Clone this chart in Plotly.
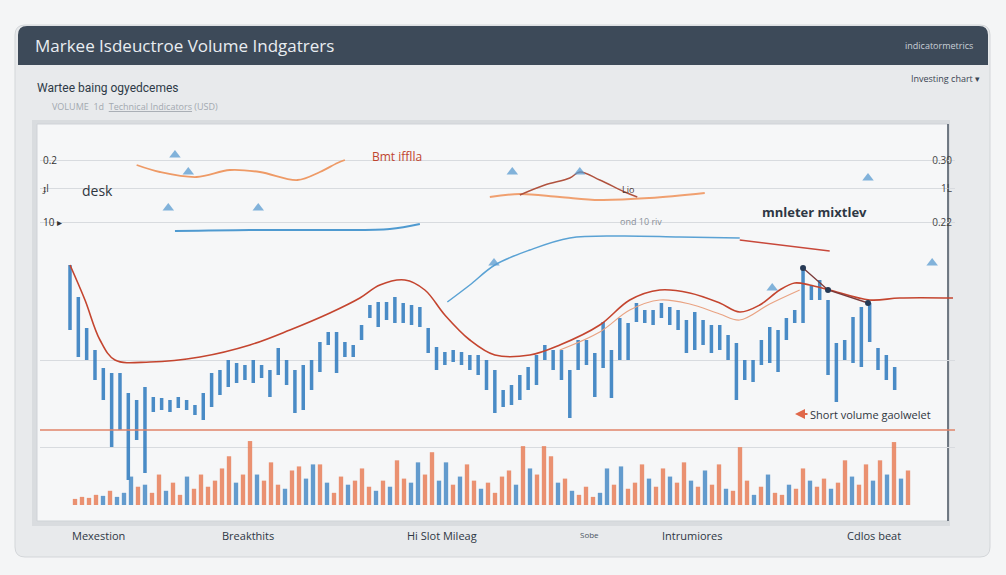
import plotly.graph_objects as go

W, H = 1006, 575
def X(px): return px / W
def Y(py): return 1 - py / H

# ---------------- data ----------------
candle_day = list(range(100))
candle_high = [235,203,172,150,132,127,127,107,100,113,
               103,102,100,103,100,95,107,127,130,140,
               137,135,140,135,130,152,140,130,135,140,
               158,168,168,158,155,175,195,198,198,203,
               197,195,193,172,153,148,150,148,145,145,
               140,130,110,115,125,133,145,155,150,150,
               130,160,160,147,178,150,182,177,197,190,
               190,197,193,190,180,188,180,175,175,165,
               157,140,140,160,173,170,182,190,232,215,
               220,200,157,160,183,193,197,152,145,133]
candle_low = [170,143,140,120,100,53,70,20,60,27,
              88,90,88,92,90,85,80,93,105,113,
              117,120,117,122,103,125,115,87,90,110,
              128,155,127,143,143,160,182,173,180,177,
              177,175,173,147,130,135,138,135,130,125,
              110,87,93,95,100,110,115,140,130,120,
              82,130,135,103,132,102,140,140,178,177,
              175,182,175,170,147,150,155,147,150,140,
              100,120,118,135,137,128,160,177,177,200,
              200,125,98,140,137,133,158,130,120,110]

ma_x = [0,1.8,3.6,5.4,9.6,15.6,21.6,26.4,31.2,34.8,37.2,40.2,42.6,45,48,51,
        55.2,58.8,63.6,67.2,70.8,74.4,78,80.4,82.8,85.2,87,88.8,91.2,96,99.6,106]
ma_y = [235,200,160,140,138,143,155,170,187,202,215,220,210,185,160,145,
        145,155,175,200,210,207,197,188,195,210,217,215,210,200,202,202]

slow_x = [58.8,63.6,67.2,70.8,74.4,78,80.4,84,87.6]
slow_y = [150,168,190,200,196,186,180,196,210]

upper_a_x = [8.0,10.8,15.2,19.2,22.8,27.3,30.0,32.1,33.0]
upper_a_y = [335,328,323,330,328,320,328,337,340]
upper_b_x = [12.6,21.6,31.2,38.4,42.0]
upper_b_y = [269,270,270,271,276]
upper_c_x = [50.4,54.0,58.8,63.6,69.6,76.2]
upper_c_y = [303,306,303,300,302,307]
upper_d_x = [54.0,57.0,60.0,61.2,63.6,66.6,68.1]
upper_d_y = [305,315,322,328,320,308,303]
trend_e_x = [45.3,48.0,51.0,55.2,60.0,66.0,73.2,80.4]
trend_e_y = [198,215,235,250,262,264,263,262]
trend_f_x = [80.4,91.2]
trend_f_y = [260,249]
signal_g_x = [88.0,91.0,95.8]
signal_g_y = [232,210,197]

signal_x = [12.6,14.2,11.8,22.6,53.1,61.2,95.8,84.3,50.9,103.5]
signal_y = [345,328,292,292,328,328,322,212,237,237]

grid_levels = [53,140,278,312,340]
left_tick_text = ["","","10 ▸","ɟl","0.2"]
right_tick_vals = [278,312,340]
right_tick_text = ["0.22","1L","0.30"]
ref_level = [70]

vol_idx = list(range(120))
vol = [6,8,7,10,9,14,8,12,28,18,20,12,30,14,22,10,28,16,30,18,
       24,36,48,22,30,63,30,24,42,20,16,34,38,26,40,40,22,12,28,20,
       24,36,18,14,24,18,44,26,22,42,30,52,24,42,20,28,40,24,16,22,
       12,28,34,20,58,36,30,58,48,22,26,14,10,18,8,12,36,20,38,16,
       22,40,26,18,36,28,22,42,24,18,34,20,40,16,14,57,24,10,18,30,
       12,10,20,16,36,24,18,26,16,22,44,28,20,40,24,44,30,62,26,34]
vol_dir = list("uuuududddu" "duuduuduuu" "uuuduuduuu" "duudduduud"
               "uuududuudd" "uudduduudu" "uuududuuud" "uduuuddudu"
               "uuduuduudu" "duuduuudud" "uuduuduudu" "uduudududu")

# ---------------- figure ----------------
fig = go.Figure()

UP, DOWN = "#e8805a", "#4a8cc6"
fig.add_trace(go.Bar(x=vol_idx, y=vol, xaxis="x2", yaxis="y3",
                     marker=dict(color=[UP if d == "u" else DOWN for d in vol_dir],
                                 line=dict(width=0)),
                     opacity=0.85, width=0.62, name="Volume", showlegend=False))

fig.add_trace(go.Bar(x=candle_day, y=[h - l for h, l in zip(candle_high, candle_low)],
                     base=candle_low, marker=dict(color="#3b82c2", line=dict(width=0)),
                     width=0.42, opacity=0.92, name="Price", showlegend=False))

fig.add_trace(go.Scatter(x=slow_x, y=slow_y, mode="lines",
                         line=dict(color="#e9a383", width=1.2, shape="spline"),
                         showlegend=False))
fig.add_trace(go.Scatter(x=ma_x, y=ma_y, mode="lines",
                         line=dict(color="#c4452f", width=1.6, shape="spline"),
                         showlegend=False))
fig.add_trace(go.Scatter(x=upper_a_x, y=upper_a_y, mode="lines",
                         line=dict(color="#ee9a66", width=1.8, shape="spline"),
                         showlegend=False))
fig.add_trace(go.Scatter(x=upper_b_x, y=upper_b_y, mode="lines",
                         line=dict(color="#4f9ad0", width=2, shape="spline"),
                         showlegend=False))
fig.add_trace(go.Scatter(x=upper_c_x, y=upper_c_y, mode="lines",
                         line=dict(color="#f0a070", width=2, shape="spline"),
                         showlegend=False))
fig.add_trace(go.Scatter(x=upper_d_x, y=upper_d_y, mode="lines",
                         line=dict(color="#b0523e", width=1.4, shape="spline"),
                         showlegend=False))
fig.add_trace(go.Scatter(x=trend_e_x, y=trend_e_y, mode="lines",
                         line=dict(color="#5aa2d4", width=1.5, shape="spline"),
                         showlegend=False))
fig.add_trace(go.Scatter(x=trend_f_x, y=trend_f_y, mode="lines",
                         line=dict(color="#c8483a", width=1.5),
                         showlegend=False))
fig.add_trace(go.Scatter(x=signal_g_x, y=signal_g_y, mode="lines+markers",
                         line=dict(color="#7a3a3a", width=1.4),
                         marker=dict(color="#263a55", size=6),
                         showlegend=False))
fig.add_trace(go.Scatter(x=signal_x, y=signal_y, mode="markers",
                         marker=dict(symbol="triangle-up", size=10, color="#5a9bd0",
                                     opacity=0.75),
                         showlegend=False))

fig.add_hline(y=ref_level[0], line=dict(color="#e0846a", width=1.3))

# ---------------- frame shapes ----------------
def rrect(x0, y0, x1, y1, r, top_only=False):
    rx, ry = r / W, r / H
    a0, b0, a1, b1 = X(x0), Y(y1), X(x1), Y(y0)  # b1 top
    if top_only:
        return (f"M{a0},{b0} L{a0},{b1-ry} Q{a0},{b1} {a0+rx},{b1} "
                f"L{a1-rx},{b1} Q{a1},{b1} {a1},{b1-ry} L{a1},{b0} Z")
    return (f"M{a0+rx},{b0} L{a1-rx},{b0} Q{a1},{b0} {a1},{b0+ry} "
            f"L{a1},{b1-ry} Q{a1},{b1} {a1-rx},{b1} L{a0+rx},{b1} "
            f"Q{a0},{b1} {a0},{b1-ry} L{a0},{b0+ry} Q{a0},{b0} {a0+rx},{b0} Z")

shapes = [
    dict(type="path", path=rrect(12, 24, 994, 562, 12), xref="paper", yref="paper",
         fillcolor="#dde0e3", line=dict(width=0), layer="below"),
    dict(type="path", path=rrect(15, 25, 990, 557, 10), xref="paper", yref="paper",
         fillcolor="#e8eaec", line=dict(color="#d3d6d9", width=1), layer="below"),
    dict(type="path", path=rrect(18, 26, 988, 65, 9, top_only=True), xref="paper",
         yref="paper", fillcolor="#3d4a59", line=dict(width=0), layer="below"),
    dict(type="rect", x0=X(32), x1=X(950), y0=Y(526), y1=Y(120), xref="paper",
         yref="paper", fillcolor="#d9dcdf", line=dict(width=0), layer="below"),
    dict(type="rect", x0=X(37), x1=X(948), y0=Y(521), y1=Y(124), xref="paper",
         yref="paper", fillcolor="#f6f7f8", line=dict(color="#cfd3d7", width=1),
         layer="below"),
    dict(type="line", x0=X(948), x1=X(948), y0=Y(521), y1=Y(124), xref="paper",
         yref="paper", line=dict(color="#4d5764", width=1.5), layer="below"),
]

ann = []
def txt(px, py, s, size, color, anchor="left", bold=False, family="Open Sans"):
    ann.append(dict(x=X(px), y=Y(py), xref="paper", yref="paper",
                    text=(f"<b>{s}</b>" if bold else s), showarrow=False,
                    xanchor=anchor, yanchor="middle",
                    font=dict(size=size, color=color, family=family)))

txt(33, 46, "Markee Isdeuctroe Volume Indgatrers", 17, "#e9edf1")
txt(975, 46, "indicatormetrics", 9, "#c9d0d8", anchor="right")
txt(35, 88, "Wartee baing ogyedcemes", 12, "#2e3a47", family="Roboto")
txt(50, 106, "VOLUME  1d  <u>Technical Indicators</u> (USD)", 9, "#a3a9b0")
txt(982, 78, "Investing chart ▾", 9, "#3a4552", anchor="right")

txt(370, 157, "Bmt ifflla", 12, "#c0442e")
txt(80, 190, "desk", 14, "#2f3640")
txt(620, 189, "Lio", 9, "#4a3a3a")
txt(618, 222, "ond 10 riv", 9, "#8a9098")
txt(760, 212, "<b>mnleter mixtlev</b>", 13, "#2e3744")
txt(808, 414, "Short volume gaolwelet", 11, "#2f3640")
ann.append(dict(x=X(795), y=Y(414), ax=14, ay=0, xref="paper", yref="paper",
                showarrow=True, arrowhead=2, arrowcolor="#e0684a", arrowwidth=2,
                text=""))

txt(70, 535, "Mexestion", 11, "#2e3744")
txt(220, 535, "Breakthits", 11, "#2e3744")
txt(405, 535, "Hi Slot Mileag", 11, "#2e3744")
txt(578, 534, "Sobe", 8, "#4a5562")
txt(660, 535, "Intrumiores", 11, "#2e3744")
txt(845, 535, "Cdlos beat", 11, "#2e3744")

fig.update_layout(
    width=W, height=H, margin=dict(l=0, r=0, t=0, b=0),
    paper_bgcolor="#f4f5f6", plot_bgcolor="rgba(0,0,0,0)",
    barmode="overlay", showlegend=False,
    font=dict(family="Open Sans", color="#333"),
    shapes=shapes, annotations=ann,
    xaxis=dict(domain=[X(40), X(955)], range=[(40 - 70) / 8.33, (955 - 70) / 8.33],
               visible=False, anchor="y"),
    yaxis=dict(domain=[Y(500), Y(140)], range=[0, 360], tickvals=grid_levels,
               ticktext=left_tick_text, ticklabelposition="inside",
               showgrid=True, gridcolor="#d8dbdf", gridwidth=1, zeroline=False,
               showline=False, ticks="", tickfont=dict(size=10, color="#333")),
    yaxis2=dict(overlaying="y", side="right", range=[0, 360], tickvals=right_tick_vals,
                ticktext=right_tick_text, ticklabelposition="inside", showgrid=False,
                zeroline=False, showline=False, ticks="", anchor="x",
                tickfont=dict(size=10, color="#444")),
    xaxis2=dict(domain=[X(40), X(955)], range=[(40 - 75) / 7, (955 - 75) / 7],
                visible=False, anchor="y3"),
    yaxis3=dict(domain=[Y(505), Y(438)], range=[0, 66], visible=False, anchor="x2"),
)
fig.add_trace(go.Scatter(x=[candle_day[0]], y=[right_tick_vals[0]], yaxis="y2",
                         mode="markers", marker=dict(opacity=0), showlegend=False,
                         hoverinfo="skip"))

fig.write_html("out.html")
